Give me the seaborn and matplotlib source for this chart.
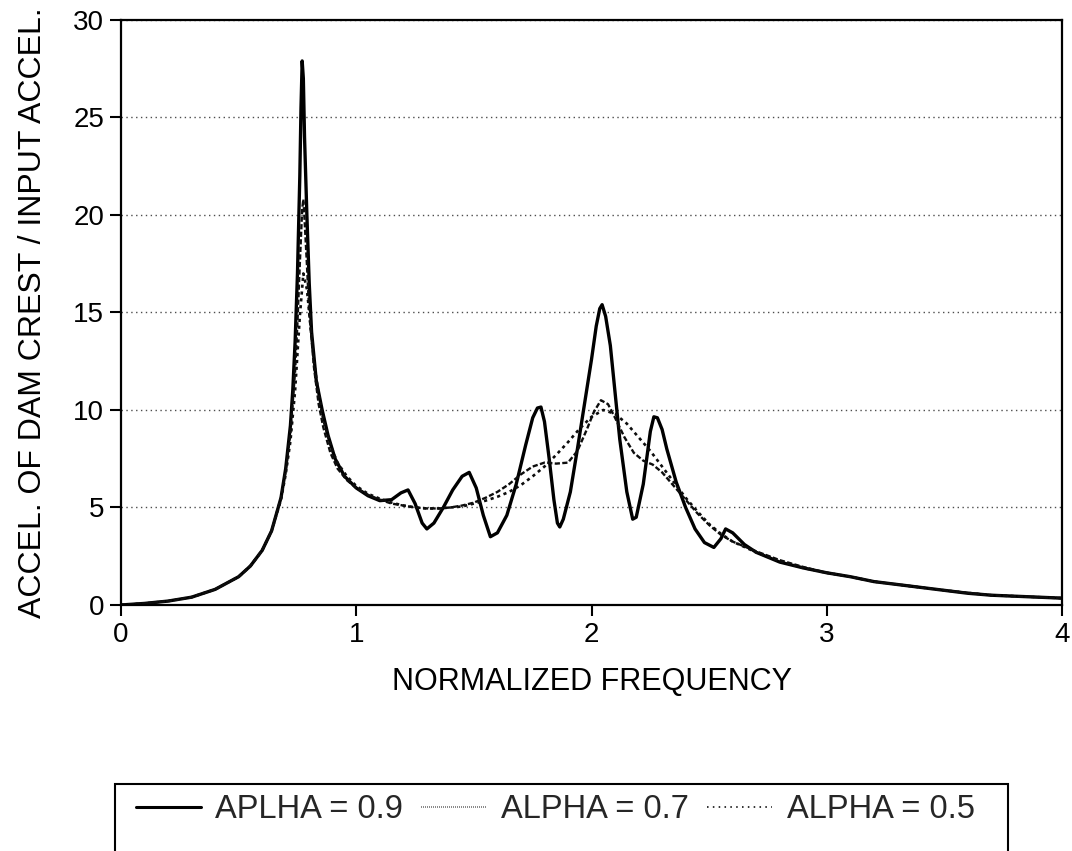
import matplotlib
matplotlib.use("Agg")
import matplotlib.pyplot as plt
from matplotlib.patches import Rectangle
from matplotlib.lines import Line2D
import seaborn as sns
import numpy as np

# ---------------- data ----------------
x_a09 = [0.00,0.10,0.20,0.30,0.40,0.50,0.55,0.60,0.64,0.68,0.70,0.72,0.73,0.74,0.75,0.76,0.765,0.77,0.775,0.78,
         0.79,0.80,0.81,0.83,0.855,0.88,0.91,0.95,1.00,1.05,1.10,1.15,1.19,1.22,1.25,1.28,1.30,1.33,1.37,1.41,
         1.45,1.48,1.51,1.54,1.57,1.60,1.64,1.68,1.72,1.75,1.77,1.785,1.80,1.82,1.84,1.855,1.865,1.88,1.91,1.94,
         1.97,2.00,2.02,2.035,2.045,2.06,2.08,2.10,2.12,2.15,2.175,2.19,2.22,2.25,2.265,2.28,2.30,2.32,2.36,2.40,
         2.44,2.48,2.52,2.55,2.57,2.60,2.65,2.70,2.80,2.90,3.00,3.10,3.20,3.30,3.40,3.50,3.60,3.70,3.80,3.90,4.00]
y_a09 = [0.0,0.08,0.2,0.4,0.8,1.45,2.0,2.8,3.8,5.5,7.0,9.2,11.0,13.5,17.0,22.0,25.5,27.9,27.0,24.0,
         20.0,16.5,14.0,11.5,10.0,8.7,7.5,6.6,6.0,5.6,5.35,5.4,5.75,5.9,5.2,4.2,3.9,4.2,5.0,5.9,
         6.6,6.8,6.0,4.6,3.5,3.7,4.6,6.2,8.2,9.6,10.1,10.15,9.4,7.5,5.4,4.2,4.0,4.4,5.8,8.0,
         10.3,12.6,14.3,15.2,15.4,14.8,13.3,10.9,8.5,5.8,4.4,4.5,6.2,8.9,9.65,9.6,9.0,8.0,6.3,5.0,
         3.9,3.2,2.95,3.4,3.9,3.7,3.1,2.7,2.2,1.9,1.65,1.45,1.2,1.05,0.9,0.75,0.6,0.5,0.45,0.4,0.35]

x_a07 = [0.00,0.10,0.20,0.30,0.40,0.50,0.55,0.60,0.64,0.68,0.70,0.72,0.74,0.75,0.76,0.77,0.775,0.78,0.79,0.80,
         0.82,0.84,0.86,0.89,0.92,0.96,1.00,1.05,1.10,1.15,1.20,1.25,1.30,1.35,1.40,1.45,1.50,1.55,1.60,1.65,
         1.70,1.75,1.80,1.85,1.90,1.94,1.98,2.01,2.04,2.07,2.10,2.14,2.18,2.22,2.26,2.30,2.35,2.40,2.45,2.50,
         2.55,2.60,2.70,2.80,2.90,3.00,3.10,3.20,3.30,3.40,3.50,3.60,3.70,3.80,3.90,4.00]
y_a07 = [0.0,0.08,0.2,0.4,0.8,1.45,2.0,2.8,3.8,5.5,6.9,8.8,12.0,14.5,17.5,20.3,20.8,19.8,17.5,15.0,
         12.2,10.3,9.1,7.8,7.0,6.4,6.0,5.65,5.4,5.2,5.1,5.0,4.95,4.95,5.0,5.1,5.25,5.5,5.8,6.2,
         6.7,7.1,7.3,7.25,7.3,7.9,9.0,9.9,10.5,10.3,9.6,8.6,7.8,7.4,7.2,6.8,6.1,5.4,4.7,4.1,
         3.6,3.25,2.75,2.3,1.95,1.65,1.45,1.2,1.05,0.9,0.75,0.62,0.5,0.45,0.4,0.35]

x_a05 = [0.00,0.10,0.20,0.30,0.40,0.50,0.55,0.60,0.64,0.68,0.70,0.72,0.74,0.76,0.775,0.79,0.80,0.82,0.84,0.86,
         0.89,0.92,0.96,1.00,1.05,1.10,1.15,1.20,1.25,1.30,1.35,1.40,1.45,1.50,1.55,1.60,1.65,1.70,1.75,1.80,
         1.85,1.90,1.95,2.00,2.05,2.10,2.15,2.20,2.25,2.30,2.35,2.40,2.45,2.50,2.55,2.60,2.70,2.80,2.90,3.00,
         3.10,3.20,3.30,3.40,3.50,3.60,3.70,3.80,3.90,4.00]
y_a05 = [0.0,0.08,0.2,0.4,0.8,1.45,2.0,2.8,3.8,5.4,6.7,8.4,11.0,14.8,17.0,16.2,15.0,12.5,10.8,9.5,
         8.2,7.3,6.6,6.1,5.7,5.45,5.25,5.1,5.0,4.95,4.95,5.0,5.05,5.2,5.35,5.55,5.8,6.15,6.6,7.1,
         7.7,8.35,9.05,9.65,10.0,9.8,9.3,8.6,7.9,7.1,6.3,5.5,4.8,4.15,3.65,3.25,2.7,2.25,1.9,1.65,
         1.45,1.2,1.05,0.9,0.75,0.62,0.5,0.45,0.4,0.35]

series_labels = ["APLHA = 0.9", "ALPHA = 0.7", "ALPHA = 0.5"]
x_ticks = [0, 1, 2, 3, 4]
y_ticks = [0, 5, 10, 15, 20, 25, 30]
x_label = "NORMALIZED FREQUENCY"
y_label = "ACCEL. OF DAM CREST / INPUT ACCEL."

# ---------------- styling ----------------
sns.set_theme(style="white")
plt.rcParams['font.family'] = ['Liberation Sans', 'DejaVu Sans']

fig = plt.figure(figsize=(10.72, 8.51), dpi=100)
ax = fig.add_axes([0.1129, 0.2891, 0.8778, 0.6874])

styles = [
    dict(linestyle='-', linewidth=2.4, color='black'),
    dict(linestyle=(0, (2.2, 1.0)), linewidth=1.7, color='0.05'),
    dict(linestyle=(0, (1.2, 1.4)), linewidth=1.9, color='0.05'),
]
data = [(x_a09, y_a09), (x_a07, y_a07), (x_a05, y_a05)]
for (xs, ys), st in zip(data, styles):
    sns.lineplot(x=xs, y=ys, ax=ax, sort=False, estimator=None, legend=False, **st)

ax.set_xlim(0, 4)
ax.set_ylim(0, 30)
ax.set_xticks(x_ticks)
ax.set_yticks(y_ticks)
ax.set_xticklabels([str(t) for t in x_ticks])
ax.set_yticklabels([str(t) for t in y_ticks])
ax.tick_params(axis='both', direction='out', length=8, width=1.5, labelsize=20,
               pad=4, colors='black', bottom=True, left=True)

ax.yaxis.grid(True, linestyle=(0, (1, 2.5)), color='0.3', linewidth=1.0)
ax.xaxis.grid(False)
ax.set_axisbelow(True)

for sp in ax.spines.values():
    sp.set_visible(True)
    sp.set_color('black')
    sp.set_linewidth(1.6)

ax.set_xlabel(x_label, fontsize=22, labelpad=14, color='black')
ax.set_ylabel(y_label, fontsize=23, labelpad=18, color='black')

# legend: box runs off the bottom of the figure, as in the reference
rect = Rectangle((115/1072, -0.05), (1008-115)/1072, (851-784)/851 + 0.05,
                 transform=fig.transFigure, fill=False, edgecolor='black',
                 linewidth=1.5, clip_on=False)
fig.add_artist(rect)

handles = [
    Line2D([], [], color='black', linestyle='-', linewidth=2.2),
    Line2D([], [], color='0.45', linestyle=(0, (0.6, 0.6)), linewidth=1.2),
    Line2D([], [], color='0.2', linestyle=(0, (0.8, 2.2)), linewidth=1.4),
]
fig.legend(handles, series_labels, loc='center', bbox_to_anchor=(0.518, 1 - 810/851),
           ncol=3, frameon=False, fontsize=23.5, handlelength=2.0, handletextpad=0.45,
           columnspacing=0.55, borderpad=0.0)

fig.savefig("out.png", dpi=100)
